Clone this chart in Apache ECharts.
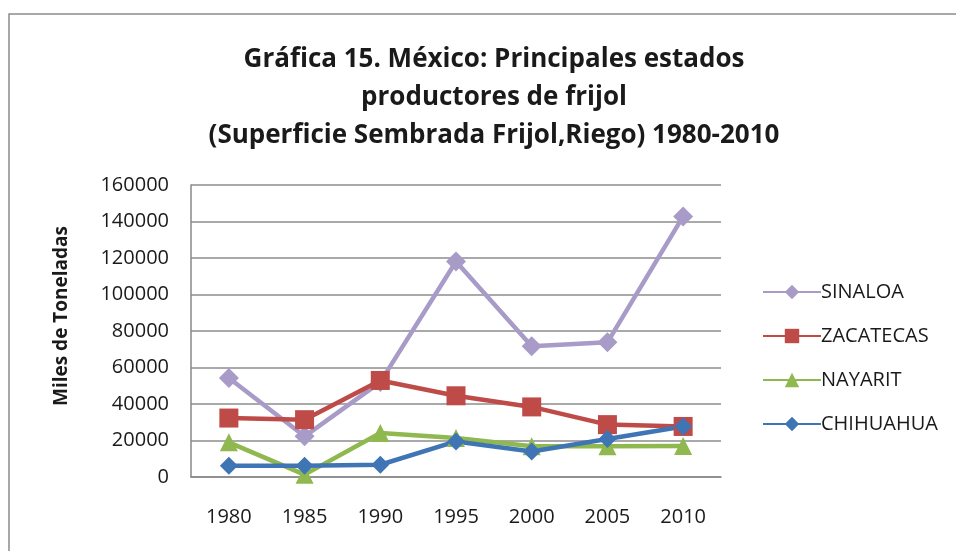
<!DOCTYPE html>
<html>
<head>
<meta charset="utf-8">
<script src="https://cdn.jsdelivr.net/npm/echarts@6/dist/echarts.min.js"></script>
<style>
  html, body { margin: 0; padding: 0; background: #fff; }
  #chart { width: 956px; height: 551px; }
</style>
</head>
<body>
<div id="chart"></div>
<script>
var years = ['1980', '1985', '1990', '1995', '2000', '2005', '2010'];
var sinaloa = [54200, 22300, 52000, 118100, 71600, 73800, 142800];
var zacatecas = [32300, 31400, 52900, 44500, 38400, 28700, 27700];
var nayarit = [19000, 1300, 24100, 21400, 16800, 16800, 17000];
var chihuahua = [6200, 6200, 6700, 19500, 14000, 20800, 27700];

var fontFam = '"Open Sans", "Liberation Sans", sans-serif';

function mkSeries(name, data, color, symbol, size) {
    return {
        name: name,
        type: 'line',
        data: data,
        symbol: symbol,
        symbolSize: size,
        lineStyle: { color: color, width: 4.5 },
        itemStyle: { color: color },
        emphasis: { disabled: true }
    };
}

var myChart = echarts.init(document.getElementById('chart'));
var option = {
    animation: false,
    backgroundColor: '#fff',
    graphic: [{
        type: 'rect',
        shape: { x: 9, y: 14, width: 960, height: 560 },
        style: { fill: 'none', stroke: '#8c8c8c', lineWidth: 1.5 }
    }],
    title: {
        text: 'Gráfica 15. México: Principales estados\nproductores de frijol\n(Superficie Sembrada Frijol,Riego) 1980-2010',
        left: 489,
        textAlign: 'center',
        top: 36,
        textStyle: {
            fontFamily: fontFam,
            fontSize: 26,
            fontWeight: 'bold',
            color: '#1a1a1a',
            lineHeight: 38
        }
    },
    legend: {
        orient: 'vertical',
        left: 757,
        top: 277,
        itemWidth: 58,
        itemHeight: 18,
        itemGap: 24,
        textStyle: { fontFamily: fontFam, fontSize: 20, color: '#1a1a1a', padding: [0, 0, 0, -5] },
        data: ['SINALOA', 'ZACATECAS', 'NAYARIT', 'CHIHUAHUA']
    },
    grid: { left: 191, right: 235, top: 185, bottom: 74 },
    xAxis: {
        type: 'category',
        data: years,
        boundaryGap: true,
        axisLine: { lineStyle: { color: '#888', width: 1.5 } },
        axisTick: { show: false },
        axisLabel: { fontFamily: fontFam, fontSize: 20, color: '#1a1a1a', margin: 30 }
    },
    yAxis: {
        type: 'value',
        min: 0,
        max: 160000,
        interval: 20000,
        name: 'Miles de Toneladas',
        nameLocation: 'middle',
        nameGap: 120,
        nameTextStyle: {
            fontFamily: fontFam, fontSize: 19, fontWeight: 'bold', color: '#1a1a1a',
            padding: [0, 0, 0, 30]
        },
        axisLine: { show: true, lineStyle: { color: '#888', width: 1.5 } },
        axisTick: { show: false },
        splitLine: { lineStyle: { color: '#8c8c8c', width: 1.5 } },
        axisLabel: {
            fontFamily: fontFam, fontSize: 20, color: '#1a1a1a', margin: 22,
            formatter: function(v) { return String(v); }
        }
    },
    series: [
        mkSeries('SINALOA', sinaloa, '#A99BC8', 'diamond', 20),
        mkSeries('ZACATECAS', zacatecas, '#BE4B48', 'rect', 19),
        mkSeries('NAYARIT', nayarit, '#8FB84E', 'triangle', 18),
        mkSeries('CHIHUAHUA', chihuahua, '#3F74B5', 'diamond', 18)
    ]
};
myChart.setOption(option);
window.addEventListener('resize', function() {
    myChart.resize();
});
</script>
</body>
</html>
